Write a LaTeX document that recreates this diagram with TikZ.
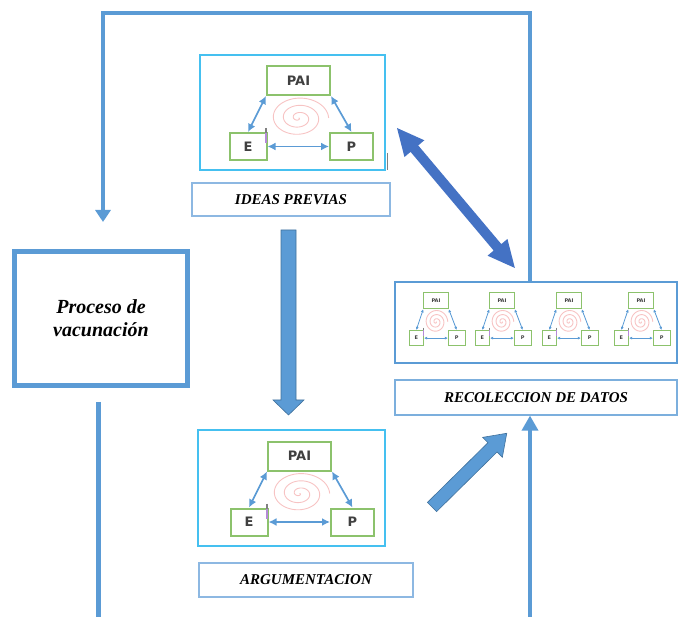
\documentclass[tikz,border=0pt]{standalone}
\usepackage{fontspec}
\setmainfont{Liberation Serif}
\newfontfamily\cajafont{DejaVu Sans}
\usetikzlibrary{arrows.meta}

\definecolor{azul}{HTML}{5B9BD5}
\definecolor{azulosc}{HTML}{4472C4}
\definecolor{borde}{HTML}{41719C}
\definecolor{celeste}{HTML}{45C0F0}
\definecolor{verde}{HTML}{8CC26C}
\definecolor{rosa}{HTML}{F7C3C3}
\definecolor{texto}{HTML}{404040}
\definecolor{etiq}{HTML}{8DB8E2}
\definecolor{marca}{HTML}{B58AD8}

\tikzset{
  marco/.style={draw=celeste, line width=1.8pt, inner sep=0pt},
  etiqueta/.style={draw=etiq, line width=1.3pt, inner sep=0pt,
    font=\bfseries\itshape\fontsize{15}{18}\selectfont},
  verdebox/.style={draw=verde, fill=white, inner sep=0pt, text=texto},
  bucle/.style={draw=azul, line width=4pt},
  bloque/.style={fill=azul, draw=borde, line width=0.6pt},
  enlace/.style={draw=azul, {Latex[length=#1,width=#1]}-{Latex[length=#1,width=#1]}},
}

% Triangle PAI - E - P with a spiral in the middle.
% #1 name prefix, #2 centre of the PAI box, #3 x scale, #4 y scale,
% #5 font size, #6 box line width (pt), #7 arrow tip size (pt)
\newcommand{\Ciclo}[7]{%
  \begin{scope}[shift={#2}]
    \draw[rosa, line width=0.9pt] plot[domain=0:18.85, samples=200]
      ({#3*1.6*\x*cos(\x r)}, {#4*(37.5+1.15*\x*sin(\x r))});
    \node[verdebox, line width=#6pt, minimum width=#3*63pt, minimum height=#4*29pt,
      font=\cajafont\bfseries\fontsize{#5}{#5}\selectfont] (#1pai) at (0,0) {PAI};
    \node[verdebox, line width=#6pt, minimum width=#3*37pt, minimum height=#4*27pt,
      font=\cajafont\bfseries\fontsize{#5}{#5}\selectfont] (#1e) at ({-50.5*#3},{66*#4}) {E};
    \node[verdebox, line width=#6pt, minimum width=#3*43pt, minimum height=#4*27pt,
      font=\cajafont\bfseries\fontsize{#5}{#5}\selectfont] (#1p) at ({53*#3},{66*#4}) {P};
    \draw[enlace=#7pt, line width=0.85*#6pt] (#1pai.south west) -- (#1e.north);
    \draw[enlace=#7pt, line width=0.85*#6pt] (#1pai.south east) -- (#1p.north);
    \draw[enlace=#7pt, line width=0.85*#6pt] (#1e.east) -- (#1p.west);
    \draw[gray, line width=0.7*#6pt] ({-32.5*#3},{47.5*#4}) -- ({-32.5*#3},{52.5*#4});
    \draw[marca, line width=0.7*#6pt] ({-32.5*#3},{52.5*#4}) -- ({-32.5*#3},{62.5*#4});
  \end{scope}}

\begin{document}
\begin{tikzpicture}[x=1pt,y=-1pt]
\useasboundingbox (0,0) rectangle (680,617);

% frames of the three stages
\node[marco, minimum width=185pt, minimum height=115pt] (ideasfig) at (292.5,112.5) {};
\node[etiqueta, minimum width=198pt, minimum height=33pt] (ideaslbl) at (291,199.5) {IDEAS PREVIAS};
\node[marco, minimum width=187pt, minimum height=116pt] (argfig) at (291.5,488) {};
\node[etiqueta, minimum width=214pt, minimum height=34pt] (arglbl) at (306,580) {ARGUMENTACION};
\node[draw=azul, line width=1.6pt, minimum width=282pt, minimum height=81pt] (recofig) at (536,322.5) {};
\node[etiqueta, draw=azul!80, line width=1.2pt, minimum width=282pt, minimum height=35pt] (recolbl) at (536,397.5) {RECOLECCION DE DATOS};

% main box
\node[draw=azul, line width=5pt, minimum width=173pt, minimum height=134pt, align=center,
  font=\bfseries\itshape\fontsize{20}{23}\selectfont] (proceso) at (101,318.5)
  {Proceso de\\vacunación};

% triangles inside the frames
\Ciclo{a}{(298.5,80.5)}{1}{1}{13}{2}{8}
\Ciclo{b}{(299.5,456)}{1}{1}{13}{2}{8}
\Ciclo{ra}{(436,300.5)}{0.39}{0.57}{5}{1}{3}
\Ciclo{rb}{(502,300.5)}{0.39}{0.57}{5}{1}{3}
\Ciclo{rc}{(569,300.5)}{0.39}{0.57}{5}{1}{3}
\Ciclo{rd}{(641,300.5)}{0.39}{0.57}{5}{1}{3}
\draw[gray, line width=1pt] (387,153) -- (387,170);

% feedback loop
\coordinate (c1) at (530,13);
\coordinate (c2) at (103,13);
\coordinate (baja) at (103,222);
\draw[bucle, -{Triangle[length=12pt,width=15pt]}] (recofig.north -| c1) -- (c1) -- (c2) -- (baja);
\coordinate (pie) at (530,617);
\draw[bucle, line width=3.5pt, -{Triangle[length=15pt,width=16pt]}] (pie) -- (recolbl.south -| pie);
\coordinate (pb1) at (98,402);
\coordinate (pb2) at (98,617);
\draw[bucle, line width=5pt] (pb1) -- (pb2);

% block arrow down
\draw[bloque] (281,230) -- (296,230) -- (296,400) -- (304,400) -- (288.5,415)
  -- (273,400) -- (281,400) -- cycle;

% block arrow towards data collection
\begin{scope}[shift={(432,507)}, rotate=44.6]
  \draw[bloque] (0,-6.5) -- (85,-6.5) -- (85,-14) -- (105,0) -- (85,14) -- (85,6.5)
    -- (0,6.5) -- cycle;
\end{scope}

% double arrow between previous ideas and data collection
\begin{scope}[shift={(397,128)}, rotate=-49.9]
  \fill[azulosc] (0,0) -- (27,13) -- (27,5) -- (156,5) -- (156,13) -- (183,0)
    -- (156,-13) -- (156,-5) -- (27,-5) -- (27,-13) -- cycle;
\end{scope}
\end{tikzpicture}
\end{document}
